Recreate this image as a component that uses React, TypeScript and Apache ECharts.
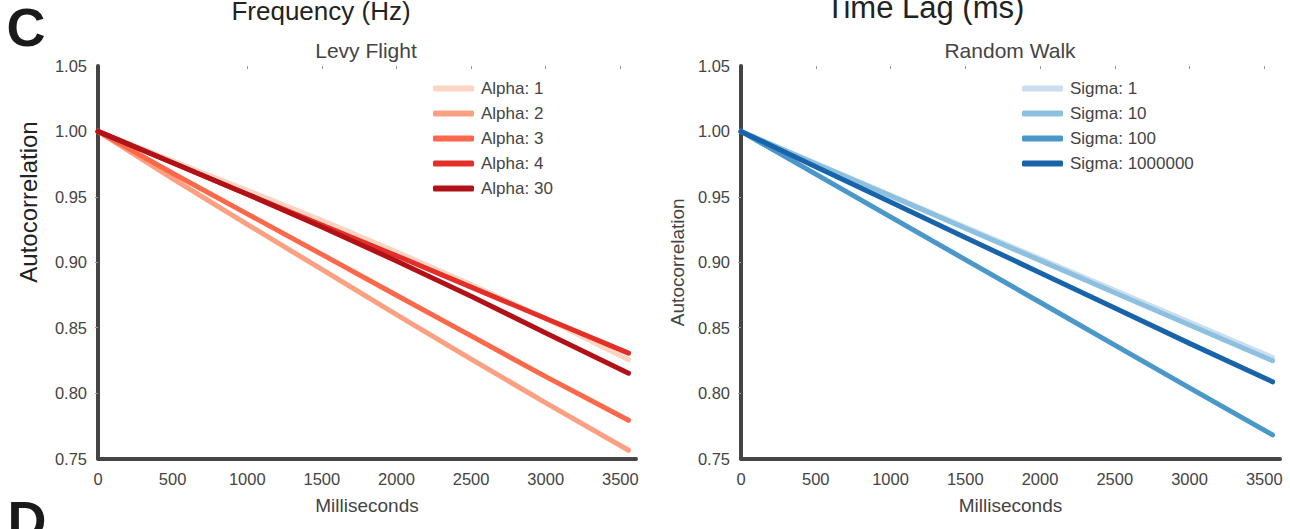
import React, { useEffect, useRef } from "react";
import * as echarts from "echarts";

// Lag times (ms) at which the autocorrelation was sampled
const LAGS = [0, 500, 1000, 1500, 2000, 2500, 3000, 3555];
const X_TICKS = [0, 500, 1000, 1500, 2000, 2500, 3000, 3500];
const Y_TICKS = [0.75, 0.8, 0.85, 0.9, 0.95, 1.0, 1.05];

// Levy flight autocorrelation per alpha
const LEVY_NAMES = ["Alpha: 1", "Alpha: 2", "Alpha: 3", "Alpha: 4", "Alpha: 30"];
const LEVY_COLORS = ["#fdd4c2", "#fca082", "#fb694a", "#e32f27", "#b11218"];
const alpha1 = [1.0, 0.9775, 0.955, 0.932, 0.908, 0.883, 0.857, 0.8254];
const alpha2 = [1.0, 0.964, 0.929, 0.8945, 0.86, 0.826, 0.7925, 0.7563];
const alpha3 = [1.0, 0.968, 0.937, 0.906, 0.8748, 0.8437, 0.8126, 0.7792];
const alpha4 = [1.0, 0.976, 0.952, 0.9285, 0.905, 0.881, 0.857, 0.8305];
const alpha30 = [1.0, 0.976, 0.952, 0.927, 0.901, 0.874, 0.846, 0.8152];
const LEVY_VALUES = [alpha1, alpha2, alpha3, alpha4, alpha30];

// Random walk autocorrelation per sigma
const WALK_NAMES = ["Sigma: 1", "Sigma: 10", "Sigma: 100", "Sigma: 1000000"];
const WALK_COLORS = ["#cadef0", "#8cc0de", "#4a98c9", "#1764ab"];
const sigma1 = [1.0, 0.9757, 0.9514, 0.927, 0.9028, 0.8785, 0.8542, 0.8272];
const sigma10 = [1.0, 0.9753, 0.9507, 0.926, 0.9014, 0.8767, 0.852, 0.8247];
const sigma100 = [1.0, 0.9674, 0.9347, 0.902, 0.8694, 0.8367, 0.804, 0.768];
const sigma1e6 = [1.0, 0.973, 0.946, 0.919, 0.892, 0.865, 0.838, 0.8086];
const WALK_VALUES = [sigma1, sigma10, sigma100, sigma1e6];

// Faint mirrored ticks on the top and right spines
const TOP_TICKS_LEFT = [1000, 1500, 2000, 2500, 3000, 3500];
const TOP_TICKS_RIGHT = [500, 1000, 1500, 2000, 2500, 3000, 3500];
const RIGHT_TICKS = [0.8, 0.85, 0.9, 0.95, 1.0];

const FONT = '"Liberation Sans", Arial, Helvetica, sans-serif';
const X_MAX = 3605;

function mainX(gridIndex: number) {
  return {
    type: "value",
    gridIndex,
    position: "bottom",
    min: 0,
    max: X_MAX,
    interval: 500,
    name: "Milliseconds",
    nameLocation: "middle",
    nameGap: 37,
    nameTextStyle: { fontFamily: FONT, fontSize: 19, color: "#444" },
    axisLine: { show: true, onZero: false, lineStyle: { color: "#444", width: 4 } },
    axisTick: { show: false },
    splitLine: { show: false },
    axisLabel: {
      customValues: X_TICKS,
      margin: 12,
      fontFamily: FONT,
      fontSize: 16.5,
      color: "#444",
      formatter: (v: number) => String(Math.round(v)),
    },
  };
}

function topX(gridIndex: number, ticks: number[]) {
  return {
    type: "value",
    gridIndex,
    position: "top",
    min: 0,
    max: X_MAX,
    interval: 500,
    axisLine: { show: false },
    axisLabel: { show: false },
    splitLine: { show: false },
    axisTick: {
      show: true,
      inside: true,
      length: 3,
      customValues: ticks,
      lineStyle: { color: "#999", width: 1 },
    },
  };
}

function mainY(gridIndex: number, name: string) {
  return {
    type: "value",
    gridIndex,
    position: "left",
    min: 0.75,
    max: 1.05,
    interval: 0.05,
    name,
    nameLocation: "middle",
    nameGap: 54,
    nameTextStyle: { fontFamily: FONT, fontSize: 19, color: "#444" },
    axisLine: { show: true, onZero: false, lineStyle: { color: "#444", width: 4 } },
    axisTick: { show: false },
    splitLine: { show: false },
    axisLabel: {
      customValues: Y_TICKS,
      margin: 11,
      fontFamily: FONT,
      fontSize: 16.5,
      color: "#444",
      formatter: (v: number) => v.toFixed(2),
    },
  };
}

function rightY(gridIndex: number) {
  return {
    type: "value",
    gridIndex,
    position: "right",
    min: 0.75,
    max: 1.05,
    interval: 0.05,
    axisLine: { show: false },
    axisLabel: { show: false },
    splitLine: { show: false },
    axisTick: {
      show: true,
      inside: true,
      length: 3,
      customValues: RIGHT_TICKS,
      lineStyle: { color: "#999", width: 1 },
    },
  };
}

function lineSeries(name: string, color: string, values: number[], axisIndex: number) {
  return {
    type: "line",
    name,
    xAxisIndex: axisIndex,
    yAxisIndex: axisIndex,
    data: LAGS.map((t, i) => [t, values[i]]),
    showSymbol: false,
    symbol: "none",
    smooth: false,
    color,
    lineStyle: { color, width: 5, cap: "round", join: "round" },
    emphasis: { disabled: true },
  };
}

function legend(names: string[], left: number) {
  return {
    orient: "vertical",
    left,
    top: 75,
    data: names,
    icon: "roundRect",
    itemWidth: 41,
    itemHeight: 6,
    itemGap: 8,
    selectedMode: false,
    textStyle: {
      fontFamily: FONT,
      fontSize: 17,
      lineHeight: 17,
      color: "#444",
      padding: [0, 0, 0, 2],
    },
  };
}

function label(text: string, x: number, y: number, font: string, fill: string, align = "center", rotation = 0) {
  return {
    type: "text",
    x,
    y,
    rotation,
    silent: true,
    style: {
      text,
      font,
      fill,
      align,
      textAlign: align,
      verticalAlign: "middle",
      textVerticalAlign: "middle",
    },
  };
}

export default function App() {
  const ref = useRef<HTMLDivElement>(null);

  useEffect(() => {
    if (!ref.current) return;
    const chart = echarts.init(ref.current, null, { renderer: "svg" });

    const series = [
      ...LEVY_NAMES.map((n, i) => lineSeries(n, LEVY_COLORS[i], LEVY_VALUES[i], 0)),
      ...WALK_NAMES.map((n, i) => lineSeries(n, WALK_COLORS[i], WALK_VALUES[i], 1)),
    ];

    chart.setOption({
      animation: false,
      backgroundColor: "#ffffff",
      textStyle: { fontFamily: FONT },
      grid: [
        { left: 98, top: 66, width: 538, height: 392.5, containLabel: false },
        { left: 741, top: 66, width: 539, height: 392.5, containLabel: false },
      ],
      xAxis: [mainX(0), mainX(1), topX(0, TOP_TICKS_LEFT), topX(1, TOP_TICKS_RIGHT)],
      yAxis: [mainY(0, ""), mainY(1, "Autocorrelation"), rightY(0), rightY(1)],
      legend: [legend(LEVY_NAMES, 428), legend(WALK_NAMES, 1017)],
      series,
      graphic: [
        label("C", 6.6, 27, `bold 54px ${FONT}`, "#1a1a1a", "left"),
        label("D", 7.5, 520, `bold 54px ${FONT}`, "#1a1a1a", "left"),
        label("Frequency (Hz)", 321, 11, `26px ${FONT}`, "#222"),
        label("Time Lag (ms)", 925, 7.6, `31px ${FONT}`, "#222"),
        label("Levy Flight", 366, 50.5, `21px ${FONT}`, "#444"),
        label("Random Walk", 1010, 50.5, `21px ${FONT}`, "#444"),
        label("Autocorrelation", 28, 202, `24px ${FONT}`, "#222", "center", Math.PI / 2),
      ],
    });

    return () => chart.dispose();
  }, []);

  return (
    <div
      ref={ref}
      style={{ position: "fixed", left: 0, top: 0, width: 1290, height: 529, background: "#fff" }}
    />
  );
}
